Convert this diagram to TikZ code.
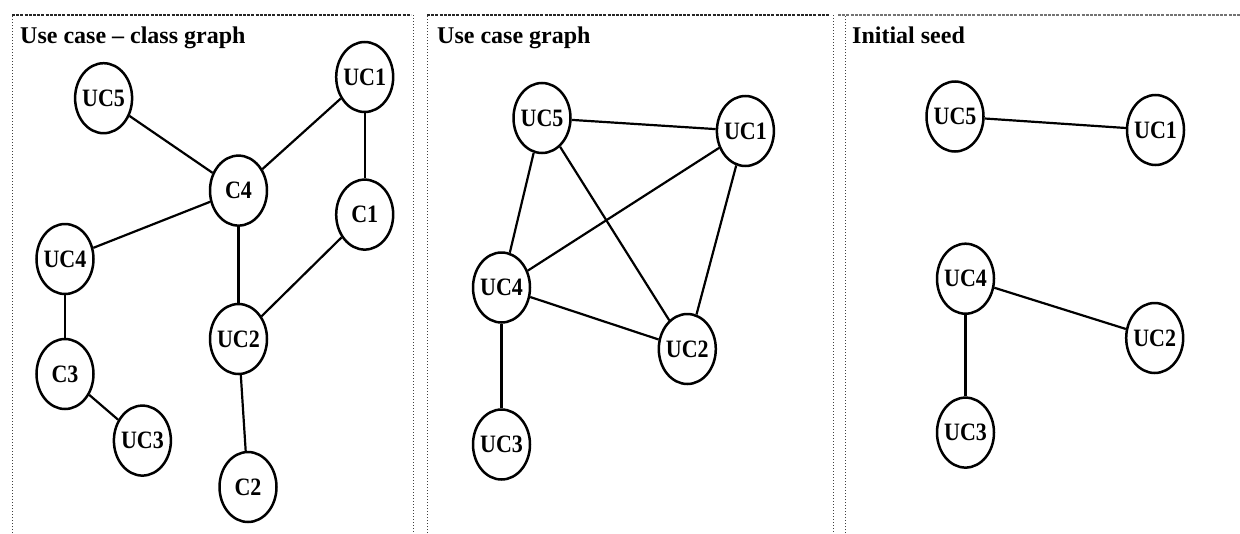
\documentclass[tikz,border=0pt]{standalone}
\usepackage{fontspec}
\setmainfont{Liberation Serif}
\newfontfamily\lblfont[FakeStretch=0.88]{Liberation Serif}
\usetikzlibrary{shapes.geometric}
\tikzset{
  vert/.style={draw, ellipse, line width=2.5pt, minimum width=57pt, minimum height=70pt, inner sep=0pt},
  lbl/.style={inner sep=0pt, font=\lblfont\bfseries\fontsize{25}{25}\selectfont},
  edge/.style={line width=2.2pt},
  ttl/.style={anchor=base west, inner sep=0pt, font=\bfseries\fontsize{24}{24}\selectfont},
  topline/.style={line width=1.5pt, dash pattern=on 3pt off 1.2pt, black!85},
  sideline/.style={line width=1pt, dash pattern=on 1pt off 2pt, black!75},
}
\begin{document}
\begin{tikzpicture}[x=1pt, y=-1pt]
\useasboundingbox (0,0) rectangle (1240,533);
% panel borders
\draw[sideline] (12,533) -- (12,15);
\draw[sideline] (413,15) -- (413,533);
\draw[topline] (12,15) -- (411,15);
\draw[sideline] (427,533) -- (427,15);
\draw[sideline] (833,15) -- (833,533);
\draw[topline] (427,15) -- (830,15);
\draw[sideline] (845,533) -- (845,15);
\draw[topline, black!55] (838,15) -- (1240,15);
% titles
\node[ttl] (t1) at (20,43) {Use case -- class graph};
\node[ttl] (t2) at (437,43) {Use case graph};
\node[ttl] (t3) at (852,43) {Initial seed};
% panel 1
\node[vert, label={[lbl]center:UC5}] (a5) at (103.6,98.2) {};
\node[vert, label={[lbl]center:UC1}] (a1) at (364.7,77) {};
\node[vert, label={[lbl]center:C4}] (ac4) at (238.5,190.6) {};
\node[vert, label={[lbl]center:C1}] (ac1) at (364.7,214.6) {};
\node[vert, label={[lbl]center:UC4}] (a4) at (65,259) {};
\node[vert, label={[lbl]center:UC2}] (a2) at (238.5,339) {};
\node[vert, label={[lbl]center:C3}] (ac3) at (65,374) {};
\node[vert, label={[lbl]center:UC3}] (a3) at (142.4,440.6) {};
\node[vert, label={[lbl]center:C2}] (ac2) at (248,487) {};
\draw[edge] (a5) -- (ac4);
\draw[edge] (a1) -- (ac4);
\draw[edge] (a1) -- (ac1);
\draw[edge] (ac4) -- (a4);
\draw[edge] (ac4) -- (a2);
\draw[edge] (ac1) -- (a2);
\draw[edge] (a4) -- (ac3);
\draw[edge] (ac3) -- (a3);
\draw[edge] (a2) -- (ac2);
% panel 2
\node[vert, label={[lbl]center:UC5}] (b5) at (542,118) {};
\node[vert, label={[lbl]center:UC1}] (b1) at (745.4,131) {};
\node[vert, label={[lbl]center:UC4}] (b4) at (501.5,287.5) {};
\node[vert, label={[lbl]center:UC2}] (b2) at (687.3,349) {};
\node[vert, label={[lbl]center:UC3}] (b3) at (501.5,444.5) {};
\draw[edge] (b5) -- (b1);
\draw[edge] (b5) -- (b4);
\draw[edge] (b5) -- (b2);
\draw[edge] (b1) -- (b4);
\draw[edge] (b1) -- (b2);
\draw[edge] (b4) -- (b2);
\draw[edge] (b4) -- (b3);
% panel 3
\node[vert, label={[lbl]center:UC5}] (c5) at (955,116.5) {};
\node[vert, label={[lbl]center:UC1}] (c1) at (1155.5,130) {};
\node[vert, label={[lbl]center:UC4}] (c4) at (965.5,278.7) {};
\node[vert, label={[lbl]center:UC2}] (c2) at (1154.7,338) {};
\node[vert, label={[lbl]center:UC3}] (c3) at (965.5,432.6) {};
\draw[edge] (c5) -- (c1);
\draw[edge] (c4) -- (c2);
\draw[edge] (c4) -- (c3);
\end{tikzpicture}
\end{document}
